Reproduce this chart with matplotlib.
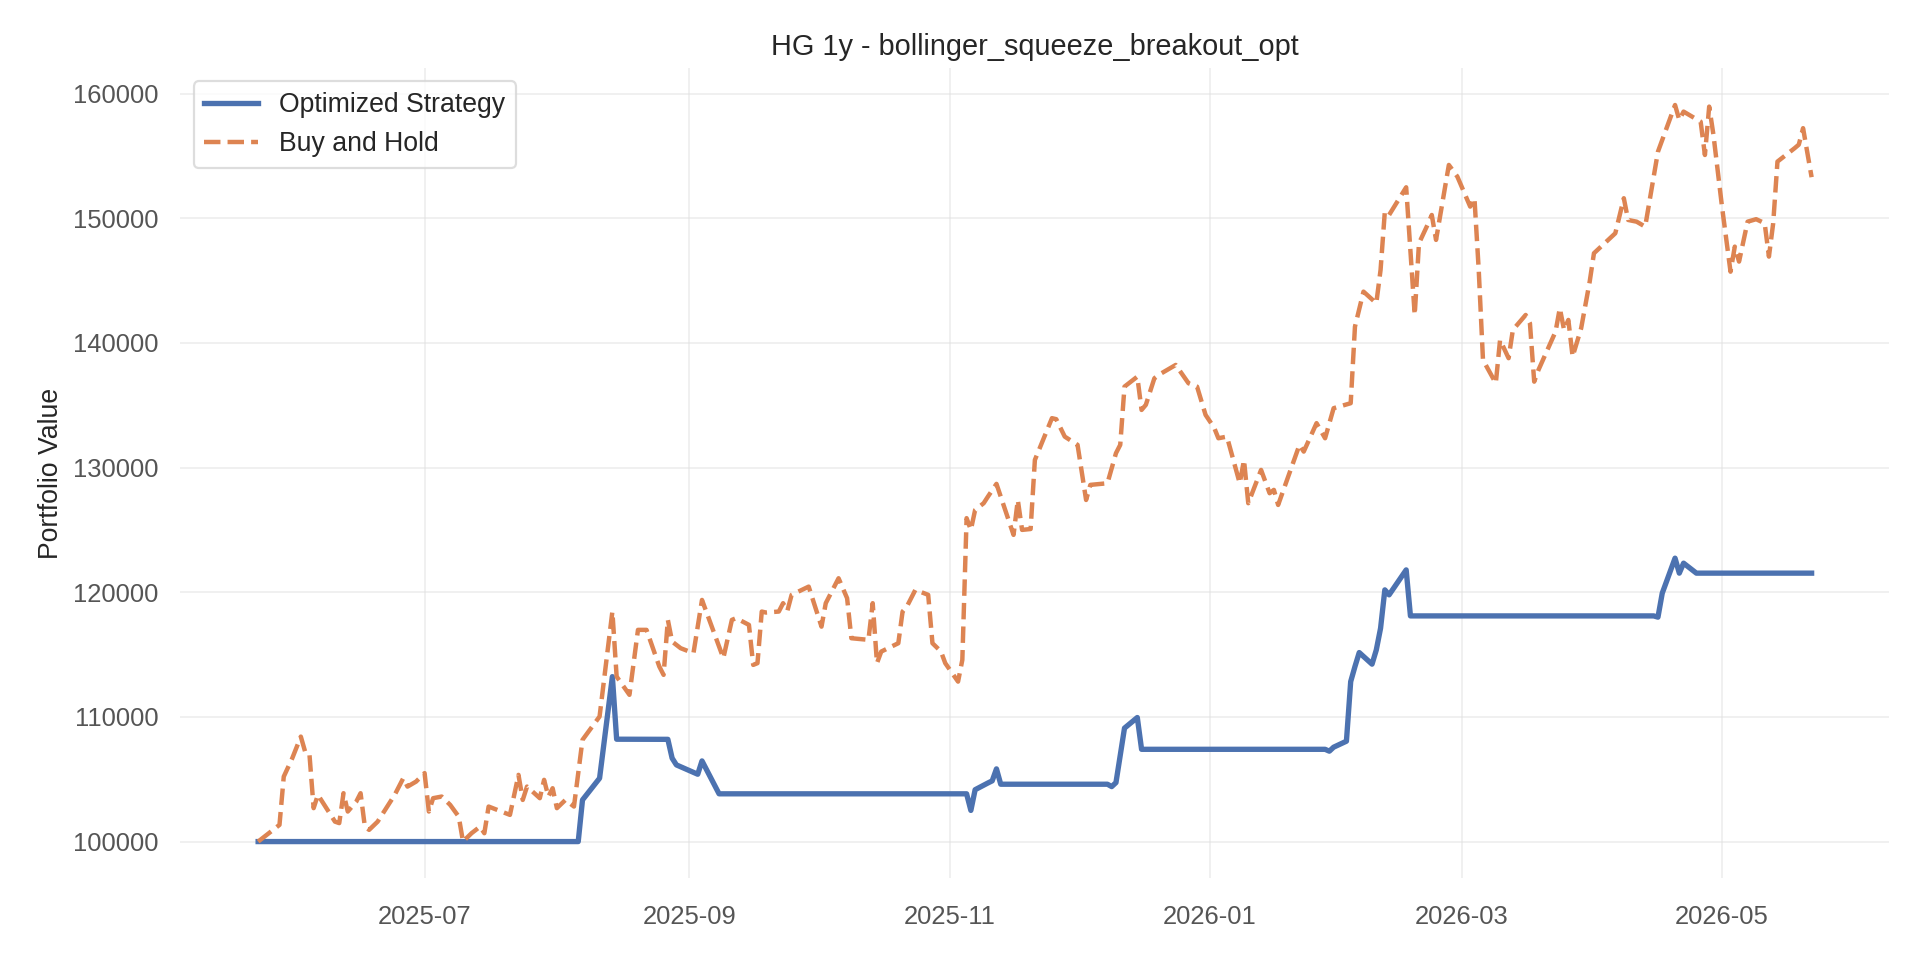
import matplotlib
matplotlib.use("Agg")
import matplotlib.pyplot as plt
import matplotlib.dates as mdates
import pandas as pd

plt.rcParams["font.family"] = ["Liberation Sans", "DejaVu Sans"]

TITLE = "HG 1y - bollinger_squeeze_breakout_opt"
Y_LABEL = "Portfolio Value"
SERIES_NAMES = ["Optimized Strategy", "Buy and Hold"]

strategy_dates = [
    "2025-05-23", "2025-08-06", "2025-08-07", "2025-08-11", "2025-08-14", "2025-08-15",
    "2025-08-27", "2025-08-28", "2025-08-29", "2025-09-03", "2025-09-04", "2025-09-08",
    "2025-11-05", "2025-11-06", "2025-11-07", "2025-11-10", "2025-11-11", "2025-11-12",
    "2025-11-13", "2025-12-08", "2025-12-09", "2025-12-10", "2025-12-12", "2025-12-15",
    "2025-12-16", "2026-01-28", "2026-01-29", "2026-01-30", "2026-02-01", "2026-02-02",
    "2026-02-03", "2026-02-04", "2026-02-05", "2026-02-08", "2026-02-09", "2026-02-10",
    "2026-02-11", "2026-02-12", "2026-02-16", "2026-02-17", "2026-04-15", "2026-04-16",
    "2026-04-17", "2026-04-20", "2026-04-21", "2026-04-22", "2026-04-25", "2026-05-22",
]
strategy_values = [
    100000, 100000, 103340, 105080, 113230, 108210,
    108200, 106690, 106150, 105400, 106470, 103830,
    103830, 102500, 104160, 104700, 104870, 105830,
    104600, 104600, 104410, 104730, 109100, 109950,
    107400, 107400, 107250, 107570, 107890, 108050,
    112830, 114040, 115160, 114230, 115370, 117110,
    120190, 119790, 121790, 118100, 118100, 118000,
    119920, 122730, 121530, 122330, 121530, 121530,
]

bh_dates = [
    "2025-05-23", "2025-05-28", "2025-05-29", "2025-05-31", "2025-06-02", "2025-06-03",
    "2025-06-04", "2025-06-05", "2025-06-06", "2025-06-08", "2025-06-10", "2025-06-11",
    "2025-06-12", "2025-06-13", "2025-06-15", "2025-06-16", "2025-06-17", "2025-06-18",
    "2025-06-20", "2025-06-24", "2025-06-26", "2025-06-27", "2025-06-29", "2025-07-01",
    "2025-07-02", "2025-07-03", "2025-07-05", "2025-07-07", "2025-07-09", "2025-07-10",
    "2025-07-12", "2025-07-14", "2025-07-15", "2025-07-16", "2025-07-21", "2025-07-23",
    "2025-07-24", "2025-07-25", "2025-07-28", "2025-07-29", "2025-07-30", "2025-07-31",
    "2025-08-01", "2025-08-03", "2025-08-05", "2025-08-07", "2025-08-11", "2025-08-14",
    "2025-08-15", "2025-08-18", "2025-08-20", "2025-08-22", "2025-08-25", "2025-08-26",
    "2025-08-27", "2025-08-28", "2025-08-30", "2025-09-02", "2025-09-04", "2025-09-05",
    "2025-09-09", "2025-09-11", "2025-09-12", "2025-09-15", "2025-09-16", "2025-09-17",
    "2025-09-18", "2025-09-19", "2025-09-22", "2025-09-23", "2025-09-24", "2025-09-25",
    "2025-09-29", "2025-09-30", "2025-10-02", "2025-10-03", "2025-10-06", "2025-10-08",
    "2025-10-09", "2025-10-13", "2025-10-14", "2025-10-15", "2025-10-16", "2025-10-20",
    "2025-10-21", "2025-10-22", "2025-10-24", "2025-10-27", "2025-10-28", "2025-10-30",
    "2025-10-31", "2025-11-03", "2025-11-04", "2025-11-05", "2025-11-06", "2025-11-07",
    "2025-11-09", "2025-11-10", "2025-11-12", "2025-11-16", "2025-11-17", "2025-11-18",
    "2025-11-20", "2025-11-21", "2025-11-25", "2025-11-26", "2025-11-28", "2025-12-01",
    "2025-12-03", "2025-12-04", "2025-12-08", "2025-12-10", "2025-12-11", "2025-12-12",
    "2025-12-15", "2025-12-16", "2025-12-17", "2025-12-19", "2025-12-20", "2025-12-24",
    "2025-12-27", "2025-12-29", "2025-12-31", "2026-01-02", "2026-01-03", "2026-01-05",
    "2026-01-08", "2026-01-09", "2026-01-10", "2026-01-13", "2026-01-15", "2026-01-16",
    "2026-01-17", "2026-01-22", "2026-01-23", "2026-01-26", "2026-01-28", "2026-01-30",
    "2026-02-03", "2026-02-04", "2026-02-06", "2026-02-09", "2026-02-10", "2026-02-11",
    "2026-02-12", "2026-02-16", "2026-02-18", "2026-02-19", "2026-02-21", "2026-02-22",
    "2026-02-23", "2026-02-26", "2026-02-28", "2026-03-03", "2026-03-04", "2026-03-05",
    "2026-03-06", "2026-03-09", "2026-03-10", "2026-03-12", "2026-03-13", "2026-03-16",
    "2026-03-17", "2026-03-18", "2026-03-19", "2026-03-23", "2026-03-24", "2026-03-25",
    "2026-03-26", "2026-03-27", "2026-03-29", "2026-03-31", "2026-04-01", "2026-04-06",
    "2026-04-08", "2026-04-09", "2026-04-11", "2026-04-13", "2026-04-16", "2026-04-20",
    "2026-04-21", "2026-04-22", "2026-04-26", "2026-04-27", "2026-04-28", "2026-04-29",
    "2026-05-01", "2026-05-03", "2026-05-04", "2026-05-05", "2026-05-07", "2026-05-09",
    "2026-05-11", "2026-05-12", "2026-05-13", "2026-05-14", "2026-05-18", "2026-05-19",
    "2026-05-20", "2026-05-22",
]
bh_values = [
    100000, 101340, 105210, 106690, 108420, 107220,
    107090, 102680, 103750, 102680, 101600, 101480,
    103880, 102410, 103210, 103880, 101200, 100940,
    101600, 103750, 105080, 104410, 104810, 105490,
    102410, 103480, 103610, 102940, 102000, 100000,
    100670, 101200, 100670, 102810, 102140, 105350,
    103340, 104410, 103480, 104950, 103610, 104280,
    102680, 103340, 102810, 108160, 110030, 118450,
    113230, 111770, 116980, 116980, 114040, 113370,
    117780, 116040, 115510, 115110, 119380, 118450,
    114710, 117780, 117920, 117380, 114170, 114310,
    118450, 118370, 118450, 119120, 118500, 119790,
    120450, 119380, 117240, 119120, 121120, 119520,
    116310, 116180, 119120, 114310, 115240, 115910,
    118450, 118850, 120190, 119790, 115910, 115240,
    114310, 112830, 114570, 125940, 125000, 126600,
    127140, 127670, 128690, 124600, 127400, 125000,
    125070, 130610, 133960, 133880, 132480, 131820,
    127400, 128610, 128740, 131150, 131820, 136490,
    137290, 134620, 135030, 137160, 137430, 138230,
    136760, 136490, 134220, 133200, 132350, 132480,
    128740, 130610, 127140, 129810, 127940, 128210,
    127000, 131820, 131280, 133560, 132350, 134760,
    135160, 141300, 144110, 143180, 145850, 150530,
    150260, 152480, 142240, 147990, 149460, 150260,
    148260, 154270, 153330, 150930, 151600, 145850,
    138630, 136760, 140240, 138770, 141040, 142240,
    141570, 136890, 137830, 140900, 142780, 141040,
    141840, 138900, 141170, 144910, 147190, 148790,
    151600, 149860, 149720, 149320, 155340, 159080,
    157880, 158550, 157740, 155070, 158950, 156680,
    150930, 145710, 147720, 146520, 149720, 149920,
    149600, 146920, 149600, 154540, 155610, 155900,
    157220, 153290,
]

fig, ax = plt.subplots(figsize=(12, 6), dpi=160)
fig.subplots_adjust(left=0.094, right=0.984, bottom=0.085, top=0.929)

ax.plot(pd.to_datetime(strategy_dates), strategy_values, color="#4c72b0",
        lw=2.4, label=SERIES_NAMES[0])
ax.plot(pd.to_datetime(bh_dates), bh_values, color="#dd8452", lw=2.0,
        ls="--", label=SERIES_NAMES[1])

ax.set_title(TITLE, fontsize=13, color="#262626")
ax.set_ylabel(Y_LABEL, fontsize=12, color="#262626")

ax.xaxis.set_major_locator(mdates.MonthLocator(bymonth=[1, 3, 5, 7, 9, 11]))
ax.xaxis.set_major_formatter(mdates.DateFormatter("%Y-%m"))
ax.ticklabel_format(axis="y", style="plain", useOffset=False)

ax.tick_params(axis="both", length=0, labelsize=11.5, labelcolor="#555555")
ax.tick_params(axis="y", pad=10)
ax.tick_params(axis="x", pad=12)

ax.grid(True, color="#e2e2e2", alpha=0.5, lw=0.9)
ax.set_axisbelow(True)
for s in ax.spines.values():
    s.set_visible(False)

leg = ax.legend(loc="upper left", fontsize=12, frameon=True, fancybox=True,
                edgecolor="#d5d5d5", framealpha=0.8)
for t in leg.get_texts():
    t.set_color("#262626")

fig.savefig("out.png", dpi=160, facecolor="white")
